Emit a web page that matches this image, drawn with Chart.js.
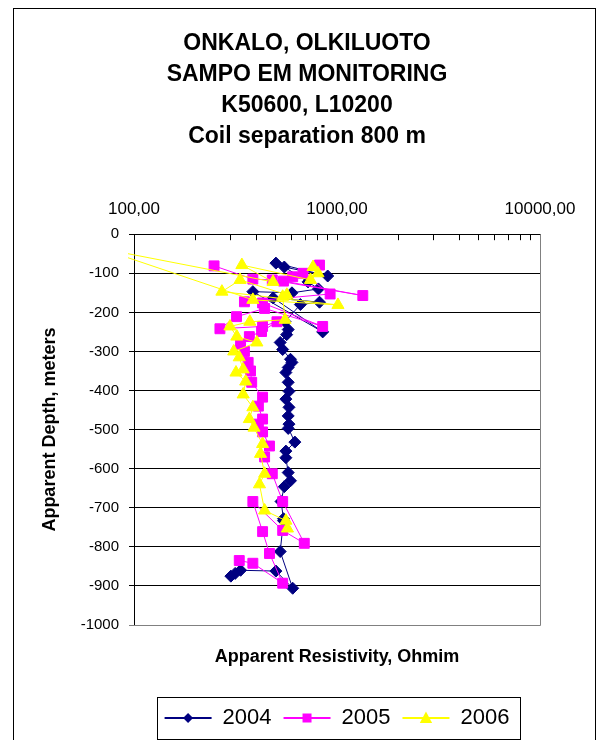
<!DOCTYPE html>
<html lang="en">
<head>
  <meta charset="UTF-8" />
  <title>ONKALO, OLKILUOTO – SAMPO EM monitoring</title>
  <script src="https://cdn.jsdelivr.net/npm/chart.js"></script>
  <style>
    body {
      margin: 0;
      background: #fff;
      overflow: hidden;
    }
    .wrap {
      position: relative;
      width: 600px;
      height: 740px;
    }
    .frame {
      position: absolute;
      left: 13px;
      top: 8px;
      width: 581px;
      height: 780px;
      border: 1px solid #000;
      pointer-events: none;
    }
  </style>
</head>
<body>
  <div class="wrap">
    <canvas id="sampoChart" width="600" height="740"></canvas>
    <div class="frame"></div>
  </div>
  <script>
// axis ticks
const xTickValues = [100, 200, 300, 400, 500, 600, 700, 800, 900,
  1000, 2000, 3000, 4000, 5000, 6000, 7000, 8000, 9000, 10000];
const xMajorTicks = [100, 1000, 10000];
const xTickLabels = ['100,00', '1000,00', '10000,00'];

const seriesNames = ['2004', '2005', '2006'];

// resistivity (ohm m) and apparent depth (m), in measurement order
const res2004 = [500, 900, 550, 720, 810, 600, 385, 850, 485, 820, 660, 555, 575, 565,
  525, 540, 590, 600, 575, 560, 575, 580, 560, 580, 575, 580, 575, 620, 560, 560,
  575, 590, 550, 530, 545, 545, 525, 605, 500, 335, 300, 315];
const depth2004 = [-74, -107, -84, -122, -140, -150, -147, -250, -163, -174, -180, -224, -244, -257,
  -277, -295, -320, -328, -341, -354, -379, -402, -422, -443, -465, -486, -497, -532, -555, -572,
  -610, -631, -646, -684, -728, -733, -812, -906, -862, -860, -875, -868];

const res2005 = [248, 385, 480, 1340, 545, 605, 820, 680, 925, 350, 430, 850, 440, 320,
  265, 430, 506, 425, 370, 335, 350, 365, 375, 380, 430, 410, 430, 410, 430, 465,
  440, 480, 540, 690, 540, 385, 430, 465, 540, 385, 330];
const depth2005 = [-81, -115, -117, -157, -120, -109, -79, -100, -153, -173, -176, -236, -190, -211,
  -242, -236, -224, -249, -262, -282, -300, -328, -350, -379, -417, -440, -473, -486, -506, -542,
  -570, -613, -684, -791, -758, -684, -761, -817, -893, -842, -835];

const res2006 = [762, 806, 740, 340, 484, 68, 385, 1011, 271, 333, 566, 540, 555, 372,
  297, 321, 403, 310, 330, 345, 318, 355, 345, 385, 370, 390, 430, 420, 440, 415,
  440, 560, 570];
const depth2006 = [-84, -100, -117, -79, -122, -36, -168, -181, -147, -117, -155, -160, -219, -224,
  -236, -262, -277, -300, -315, -346, -354, -377, -410, -443, -473, -495, -537, -562, -613, -640,
  -707, -733, -753];

const toPoints = (res, depth) => res.map((r, i) => ({ x: r, y: depth[i] }));

const FONT = '"Liberation Sans", Arial, sans-serif';
Chart.defaults.font.family = FONT;
Chart.defaults.color = '#000';

// right + bottom edge of the plot area (grey, like the Excel plot frame)
const plotFrame = {
  id: 'plotFrame',
  beforeDatasetsDraw(chart) {
    const { ctx, chartArea: a } = chart;
    ctx.save();
    ctx.strokeStyle = '#808080';
    ctx.lineWidth = 1;
    ctx.beginPath();
    ctx.moveTo(Math.round(a.right) + 0.5, a.top);
    ctx.lineTo(Math.round(a.right) + 0.5, Math.round(a.bottom) + 0.5);
    ctx.lineTo(a.left, Math.round(a.bottom) + 0.5);
    ctx.stroke();
    ctx.restore();
  }
};

// centre legend under the plot, draw line+marker samples and a box around it
function drawMarker(ctx, style, x, y, r) {
  ctx.beginPath();
  if (style === 'rectRot') {
    ctx.moveTo(x, y - r); ctx.lineTo(x + r, y); ctx.lineTo(x, y + r); ctx.lineTo(x - r, y);
  } else if (style === 'rect') {
    ctx.rect(x - r, y - r, 2 * r, 2 * r);
  } else {
    ctx.moveTo(x, y - r); ctx.lineTo(x + r * 0.95, y + r * 0.75); ctx.lineTo(x - r * 0.95, y + r * 0.75);
  }
  ctx.closePath();
  ctx.fill();
}

const excelLegend = {
  id: 'excelLegend',
  afterLayout(chart) {
    const l = chart.legend;
    const shift = (chart.chartArea.left + chart.chartArea.right) / 2 - (l.left + l.right) / 2;
    l.left += shift;
    l.right += shift;
  },
  afterDraw(chart) {
    const { ctx } = chart;
    const l = chart.legend;
    const boxes = l.legendHitBoxes;
    if (!boxes || !boxes.length) return;
    const bw = l.options.labels.boxWidth;
    const markerSize = { rectRot: 5, rect: 4.5, triangle: 6.5 };
    ctx.save();
    boxes.forEach((b, i) => {
      const ds = chart.data.datasets[l.legendItems[i].datasetIndex];
      const cy = b.top + b.height / 2;
      ctx.strokeStyle = ds.borderColor;
      ctx.lineWidth = 2;
      ctx.beginPath();
      ctx.moveTo(b.left, cy);
      ctx.lineTo(b.left + bw, cy);
      ctx.stroke();
      ctx.fillStyle = ds.backgroundColor;
      drawMarker(ctx, ds.pointStyle, b.left + bw / 2, cy, markerSize[ds.pointStyle]);
    });
    const first = boxes[0], last = boxes[boxes.length - 1];
    ctx.strokeStyle = '#000';
    ctx.lineWidth = 1;
    ctx.strokeRect(Math.round(first.left - 8) + 0.5, Math.round(first.top - 10) + 0.5,
      Math.round(last.left + last.width - first.left + 18), Math.round(first.height + 20));
    ctx.restore();
  }
};

new Chart(document.getElementById('sampoChart').getContext('2d'), {
  type: 'scatter',
  data: {
    datasets: [{
      label: seriesNames[0],
      data: toPoints(res2004, depth2004),
      borderColor: '#000080',
      backgroundColor: '#000080',
      pointStyle: 'rectRot',
      pointRadius: 6,
      order: 3
    }, {
      label: seriesNames[1],
      data: toPoints(res2005, depth2005),
      borderColor: '#FF00FF',
      backgroundColor: '#FF00FF',
      pointStyle: 'rect',
      pointRadius: 7,
      order: 2
    }, {
      label: seriesNames[2],
      data: toPoints(res2006, depth2006),
      borderColor: '#FFFF00',
      backgroundColor: '#FFFF00',
      pointStyle: 'triangle',
      pointRadius: 7,
      order: 1,
      clip: { left: 6, top: 0, right: 0, bottom: 0 }
    }]
  },
  options: {
    responsive: false,
    animation: false,
    events: [],
    showLine: true,
    elements: {
      line: { borderWidth: 1, tension: 0 },
      point: { borderWidth: 1, hoverRadius: 6 }
    },
    layout: { padding: { left: 14, right: 0, top: 0, bottom: 1 } },
    scales: {
      x: {
        type: 'logarithmic',
        position: 'top',
        min: 100,
        max: 10000,
        afterBuildTicks: s => { s.ticks = xTickValues.map(v => ({ value: v })); },
        afterFit: s => { s.height = 74; },
        ticks: {
          autoSkip: false,
          maxRotation: 0,
          padding: 21,
          font: { size: 17 },
          color: '#000',
          callback: v => {
            const i = xMajorTicks.indexOf(v);
            return i < 0 ? '' : xTickLabels[i];
          }
        },
        grid: { drawOnChartArea: false, tickLength: -6, color: '#000' },
        border: { color: '#000' }
      },
      xTitle: {
        type: 'logarithmic',
        position: 'bottom',
        min: 100,
        max: 10000,
        afterFit: s => { s.height = 70; },
        ticks: { display: false },
        grid: { display: false },
        border: { display: false },
        title: {
          display: true,
          text: 'Apparent Resistivity, Ohmim',
          color: '#000',
          font: { size: 18, weight: 'bold' },
          padding: { top: 0, bottom: 27 }
        }
      },
      y: {
        type: 'linear',
        min: -1000,
        max: 0,
        afterFit: s => { s.width = 120; },
        ticks: {
          stepSize: 100,
          padding: 10,
          font: { size: 15 },
          color: '#000',
          callback: v => String(v)
        },
        grid: {
          tickLength: 5,
          color: c => (c.tick && c.tick.value === -1000 ? '#808080' : '#000')
        },
        border: { color: '#000' },
        title: {
          display: true,
          text: 'Apparent Depth, meters',
          color: '#000',
          font: { size: 18, weight: 'bold' },
          padding: { top: 25 }
        }
      },
      yRight: {
        type: 'linear',
        position: 'right',
        afterFit: s => { s.width = 60; },
        ticks: { display: false },
        grid: { display: false },
        border: { display: false }
      }
    },
    plugins: {
      title: {
        display: true,
        text: ['ONKALO, OLKILUOTO', 'SAMPO EM MONITORING', 'K50600, L10200', 'Coil separation 800 m'],
        color: '#000',
        font: { size: 23, weight: 'bold', lineHeight: 1.35 },
        padding: { top: 28, bottom: 8 }
      },
      legend: {
        position: 'bottom',
        labels: {
          font: { size: 22 },
          color: '#000',
          boxWidth: 47,
          boxHeight: 10,
          padding: 12,
          sort: (a, b) => a.datasetIndex - b.datasetIndex,
          generateLabels: chart => Chart.defaults.plugins.legend.labels.generateLabels(chart)
            .map(it => Object.assign(it, { fillStyle: 'rgba(0,0,0,0)', strokeStyle: 'rgba(0,0,0,0)', lineWidth: 0 }))
        }
      },
      tooltip: { enabled: false }
    }
  },
  plugins: [plotFrame, excelLegend]
});
  </script>
</body>
</html>
